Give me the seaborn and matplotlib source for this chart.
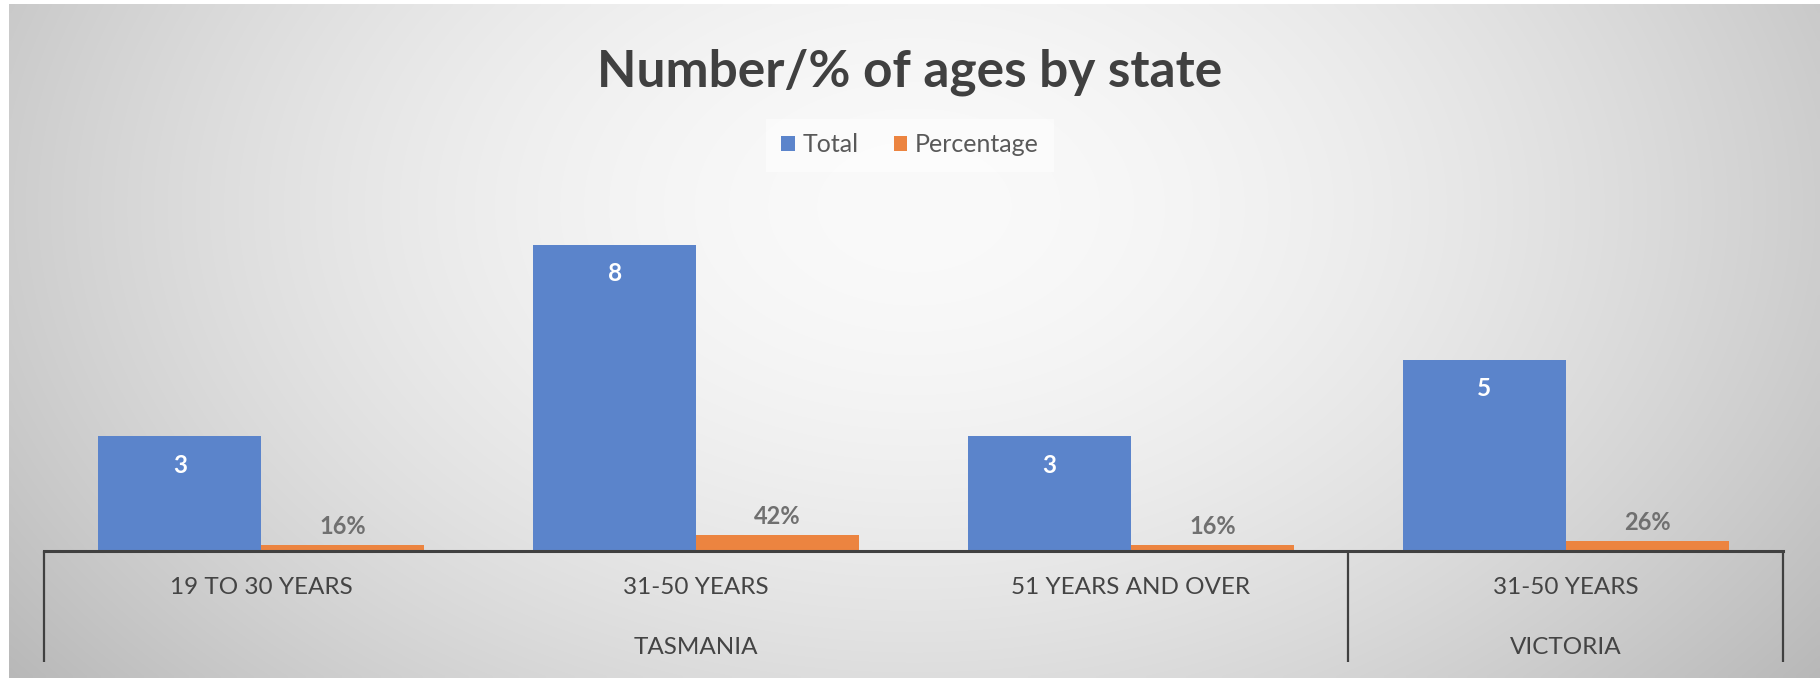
import numpy as np
import pandas as pd
import matplotlib
matplotlib.use("Agg")
import matplotlib.pyplot as plt
import matplotlib.transforms as mtransforms
from matplotlib.patches import Patch
import seaborn as sns

# ---- data ----
states = ["TASMANIA", "TASMANIA", "TASMANIA", "VICTORIA"]
age_groups = ["19 TO 30 YEARS", "31-50 YEARS", "51 YEARS AND OVER", "31-50 YEARS"]
totals = [3, 8, 3, 5]
percentages = [0.16, 0.42, 0.16, 0.26]
series_names = ["Total", "Percentage"]
series_colors = ["#5B84CB", "#EC8440"]
title = "Number/% of ages by state"

sns.set_theme(style="white")
plt.rcParams['font.family'] = ['Lato', 'DejaVu Sans']

keys = [f"{s}|{a}" for s, a in zip(states, age_groups)]
df = pd.DataFrame({
    "key": keys * 2,
    "series": [series_names[0]] * len(keys) + [series_names[1]] * len(keys),
    "value": totals + percentages,
})

W, H = 1820, 678
fig = plt.figure(figsize=(W / 100, H / 100), dpi=100, facecolor="white")

# background radial gradient
bg = fig.add_axes([9 / W, 0, 1 - 9 / W, 1 - 4 / H], zorder=0)
gx, gy = np.meshgrid(np.linspace(0, 1, 400), np.linspace(0, 1, 160))
r = np.sqrt(((gx - 0.5) / 0.55) ** 2 + ((gy - 0.3) / 1.0) ** 2)
r = np.clip(r, 0, 1.3)
val = (250 - 52 * r ** 1.7) / 255.0
bg.imshow(np.dstack([val, val, val]), aspect="auto", extent=[0, 1, 1, 0], interpolation="bilinear")
bg.set_axis_off()

ax = fig.add_axes([44 / W, 1 - 551 / H, (1783 - 44) / W, 344.5 / H], zorder=1)
ax.patch.set_alpha(0)
sns.barplot(data=df, x="key", y="value", hue="series", order=keys,
            hue_order=series_names, palette=series_colors, width=0.75,
            saturation=1, errorbar=None, legend=False, linewidth=0, ax=ax)
ax.set_ylim(0, 9)
ax.set_xlim(-0.5, len(keys) - 0.5)
ax.set_xlabel("")
ax.set_ylabel("")
ax.set_yticks([])
ax.set_xticks([])
for s in ["top", "right", "left"]:
    ax.spines[s].set_visible(False)
ax.spines["bottom"].set_color("#404040")
ax.spines["bottom"].set_linewidth(2.2)
ax.spines["bottom"].set_zorder(5)

# data labels
for bar, v in zip(ax.containers[0], totals):
    ax.annotate(str(v), (bar.get_x() + bar.get_width() / 2, bar.get_height()),
                xytext=(0, -21), textcoords="offset points", ha="center", va="center",
                color="white", fontsize=17.5, fontweight="bold")
for bar, v in zip(ax.containers[1], percentages):
    ax.annotate(f"{round(v * 100)}%", (bar.get_x() + bar.get_width() / 2, bar.get_height()),
                xytext=(0, 5), textcoords="offset points", ha="center", va="bottom",
                color="#707070", fontsize=17, fontweight="bold")

# multi-level category axis
trans = mtransforms.blended_transform_factory(ax.transData, ax.transAxes)
for i, a in enumerate(age_groups):
    ax.text(i, -0.1074, a, transform=trans, ha="center", va="center",
            fontsize=17.5, color="#444444")
groups = []
start = 0
for i in range(1, len(states) + 1):
    if i == len(states) or states[i] != states[start]:
        groups.append((states[start], start, i - 1))
        start = i
bounds = sorted({g[1] - 0.5 for g in groups} | {g[2] + 0.5 for g in groups})
for g, s0, s1 in groups:
    ax.text((s0 + s1) / 2, -0.2787, g, transform=trans, ha="center", va="center",
            fontsize=17.5, color="#444444")
for b in bounds:
    ax.plot([b, b], [0, -0.322], transform=trans, color="#404040", lw=1.6,
            clip_on=False, solid_capstyle="butt")

# title and legend
fig.text(0.5, 1 - 86 / H, title, ha="center", va="baseline", fontsize=37,
         fontweight="bold", color="#404040")
handles = [Patch(facecolor=c, edgecolor="none") for c in series_colors]
leg = fig.legend(handles, series_names, loc="center", bbox_to_anchor=(0.5, 1 - 145 / H),
                 ncol=2, frameon=True, facecolor="white", framealpha=0.55,
                 edgecolor="none", fancybox=False, fontsize=18, handlelength=0.55,
                 handleheight=0.55, columnspacing=1.4, handletextpad=0.3,
                 borderpad=0.6)
for t in leg.get_texts():
    t.set_color("#595959")

fig.savefig("out.png", dpi=100, facecolor="white")
